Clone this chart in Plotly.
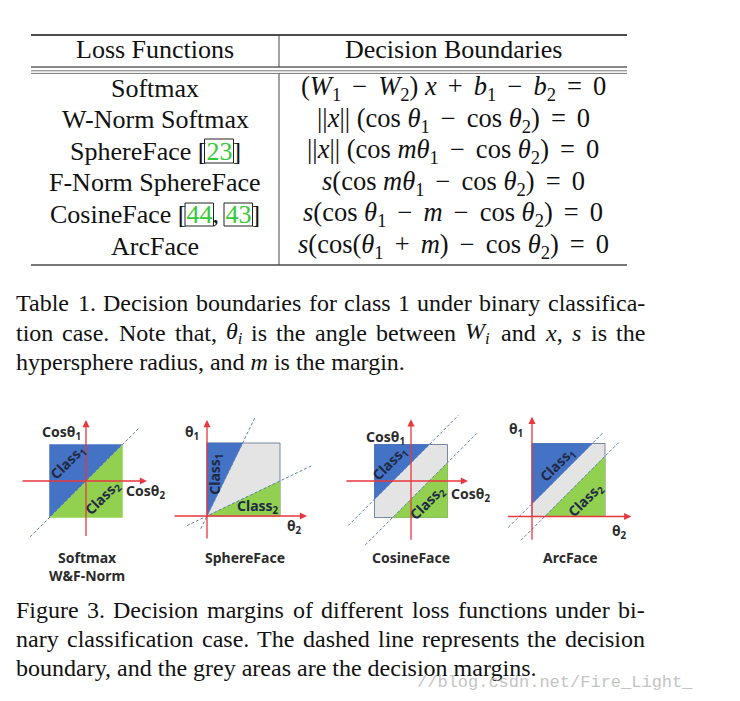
import re
import plotly.graph_objects as go

W, H = 740, 701
S = 36.5  # pixels per unit in the small diagrams

SERIF = "Liberation Serif"
SANS = "Noto Sans"
GREEN_REF = "#35c935"

# ---- table data ----
table_header = ["Loss Functions", "Decision Boundaries"]
loss_names = [
    "Softmax",
    "W-Norm Softmax",
    f"SphereFace [<span style='color:{GREEN_REF}'>23</span>]",
    "F-Norm SphereFace",
    f"CosineFace [<span style='color:{GREEN_REF}'>44</span>, <span style='color:{GREEN_REF}'>43</span>]",
    "ArcFace",
]
sp = "\u2004\u200a"
nrm = "||<i>x</i>||"
boundaries = [
    f"(<i>W</i><sub>1</sub>{sp}−{sp}<i>W</i><sub>2</sub>) <i>x</i>{sp}+{sp}<i>b</i><sub>1</sub>{sp}−{sp}<i>b</i><sub>2</sub>{sp}={sp}0",
    f"{nrm} (cos <i>θ</i><sub>1</sub>{sp}−{sp}cos <i>θ</i><sub>2</sub>){sp}={sp}0",
    f"{nrm} (cos <i>mθ</i><sub>1</sub>{sp}−{sp}cos <i>θ</i><sub>2</sub>){sp}={sp}0",
    f"<i>s</i>(cos <i>mθ</i><sub>1</sub>{sp}−{sp}cos <i>θ</i><sub>2</sub>){sp}={sp}0",
    f"<i>s</i>(cos <i>θ</i><sub>1</sub>{sp}−{sp}<i>m</i>{sp}−{sp}cos <i>θ</i><sub>2</sub>){sp}={sp}0",
    f"<i>s</i>(cos(<i>θ</i><sub>1</sub>{sp}+{sp}<i>m</i>){sp}−{sp}cos <i>θ</i><sub>2</sub>){sp}={sp}0",
]

# ---- caption text (last line of each paragraph is not justified) ----
table_caption = [
    "Table 1. Decision boundaries for class 1 under binary classifica-",
    "tion case.  Note that, <i>θ<sub>i</sub></i> is the angle between <i>W<sub>i</sub></i> and <i>x</i>, <i>s</i> is the",
    "hypersphere radius, and <i>m</i> is the margin.",
]
figure_caption = [
    "Figure 3. Decision margins of different loss functions under bi-",
    "nary classification case.  The dashed line represents the decision",
    "boundary, and the grey areas are the decision margins.",
]
watermark = "//blog.csdn.net/Fire_Light_"

# ---- diagram data ----
diagram_titles = ["Softmax<br>W&F-Norm", "SphereFace", "CosineFace", "ArcFace"]
axis_labels = [("Cosθ<sub>1</sub>", "Cosθ<sub>2</sub>"), ("θ<sub>1</sub>", "θ<sub>2</sub>"),
               ("Cosθ<sub>1</sub>", "Cosθ<sub>2</sub>"), ("θ<sub>1</sub>", "θ<sub>2</sub>")]
class_labels = ["Class<sub>1</sub>", "Class<sub>2</sub>"]
# cosine-space diagrams: square [-1, 1], boundary y = x +/- margin
softmax_margin = 0.0
cosface_margin = 0.5
# angle-space diagrams: square [0, 2]
sphere_slopes = [2.05, 0.48]      # class1 boundary, class2 boundary
arcface_margin = 0.35
# dashed line extents (x start, x end) per boundary
softmax_dash = [(-1.53, 1.48)]
sphere_dash = [(-0.17, 1.33), (-0.55, 2.9)]
cosface_dash = [(-1.72, 1.3), (-1.25, 1.8)]
arcface_dash = [(-0.65, 1.95), (-0.3, 2.4)]

BLUE = "#4472c4"
LGREEN = "#92d050"
GREY = "#e4e4e4"
RED = "#e8373f"
DASH = "#5b80b8"
EDGE = "#7a869c"
INK = "#1f2a44"

# Times-compatible advance widths (per 1000 em), used to justify caption lines
_w = {" ": 250, ".": 250, ",": 250, "-": 333, "θ": 500}
_w.update({c: 500 for c in "0123456789bdghknopquvxy"})
_w.update({c: 444 for c in "acez"})
_w.update({c: 278 for c in "ijlt"})
_w.update({"f": 333, "r": 333, "s": 389, "m": 778, "w": 722})
_w.update(dict(zip("ABCDEFGHIJKLMNOPQRSTUVWXYZ",
                   [722, 667, 667, 722, 611, 556, 722, 722, 333, 389, 722, 611, 889,
                    722, 722, 556, 722, 667, 556, 611, 722, 722, 944, 722, 722, 611])))


def est_width(html, size):
    total = 0.0
    for piece in re.split(r"(<sub>.*?</sub>)", html):
        scale = 0.7 if piece.startswith("<sub>") else 1.0
        plain = re.sub(r"<[^>]+>", "", piece)
        total += scale * sum(_w.get(c, 500) for c in plain)
    return total * size / 1000


fig = go.Figure()

# main pixel axis
fig.update_layout(
    xaxis=dict(range=[0, W], domain=[0, 1], visible=False, fixedrange=True),
    yaxis=dict(range=[H, 0], domain=[0, 1], visible=False, fixedrange=True),
)
annotations = []
shapes = []


def txt(x, y, text, size=26, family=SERIF, xanchor="center", color="#111", weight="normal"):
    annotations.append(dict(x=x, y=y, xref="x", yref="y", text=text, showarrow=False,
                            xanchor=xanchor, yanchor="middle",
                            font=dict(family=family, size=size, color=color, weight=weight)))


def hline(x0, x1, y, color="#111", width=1.0):
    shapes.append(dict(type="line", xref="x", yref="y", x0=x0, x1=x1, y0=y, y1=y,
                       line=dict(color=color, width=width)))


# ---- table ----
hline(31, 627, 35, "#111", 1.3)
hline(31, 627, 67, "#111", 1.0)
hline(31, 627, 70.8, "#777", 1.0)
hline(31, 627, 73.4, "#777", 1.0)
hline(31, 627, 265, "#777", 1.8)
for y0, y1 in [(35, 67), (73.4, 265)]:
    shapes.append(dict(type="line", xref="x", yref="y", x0=279, x1=279, y0=y0, y1=y1,
                       line=dict(color="#444", width=1)))

txt(155, 49, table_header[0])
txt(453, 49, table_header[1])
for i, (name, formula) in enumerate(zip(loss_names, boundaries)):
    y = 88 + i * 31.6
    txt(155, y, name)
    txt(453, y, formula, size=26.5)

# citation link boxes (around the rendered reference numbers)
for x0, x1, y0, y1 in [(204.5, 233.5, 139, 163), (185, 213.5, 203, 226), (224, 252.5, 203, 226)]:
    shapes.append(dict(type="rect", xref="x", yref="y", x0=x0, x1=x1, y0=y0, y1=y1,
                       line=dict(color="#222", width=1)))


# ---- captions ----
def caption(lines, y_top, step, left=14, right=643, size=24):
    for i, line in enumerate(lines):
        y = y_top + i * step
        if i == len(lines) - 1:
            txt(left, y, line, size=size, xanchor="left")
            continue
        words = [w for w in line.split(" ") if w]
        widths = [est_width(w, size) for w in words]
        gap = (right - left - sum(widths)) / (len(words) - 1)
        x = left
        for w, wd in zip(words, widths):
            txt(x, y, w, size=size, xanchor="left")
            x += wd + gap


caption(table_caption, 303, 29.5)
caption(figure_caption, 610, 29)
txt(415, 682, watermark, size=17, family="Liberation Mono", xanchor="left", color="#c4c4c4")


# ---- diagrams ----
def diagram_axes(k, ox, oy, xr, yr):
    xa, ya = f"xaxis{k}", f"yaxis{k}"
    fig.update_layout({
        xa: dict(range=xr, domain=[(ox + xr[0] * S) / W, (ox + xr[1] * S) / W],
                 visible=False, fixedrange=True, anchor=f"y{k}"),
        ya: dict(range=yr, domain=[(H - oy + yr[0] * S) / H, (H - oy + yr[1] * S) / H],
                 visible=False, fixedrange=True, anchor=f"x{k}"),
    })
    return f"x{k}", f"y{k}"


def poly(xs, ys, color, xr, yr, edge=None):
    fig.add_trace(go.Scatter(x=xs + xs[:1], y=ys + ys[:1], xaxis=xr, yaxis=yr, mode="lines",
                             fill="toself", fillcolor=color,
                             line=dict(color=edge or color, width=1 if edge else 0.5),
                             hoverinfo="skip", showlegend=False))


def dashed(fn, x0, x1, xr, yr):
    fig.add_trace(go.Scatter(x=[x0, x1], y=[fn(x0), fn(x1)], xaxis=xr, yaxis=yr, mode="lines",
                             line=dict(color=DASH, width=1, dash="3px,2px"),
                             hoverinfo="skip", showlegend=False))


def arrow(xr, yr, x0, y0, x1, y1):
    annotations.append(dict(x=x1, y=y1, ax=x0, ay=y0, xref=xr, yref=yr, axref=xr, ayref=yr,
                            text="", showarrow=True, arrowhead=2, arrowsize=1.1,
                            arrowwidth=1.3, arrowcolor=RED, standoff=0))


def label(xr, yr, x, y, text, size=14, angle=0, color="#2b2b2b"):
    annotations.append(dict(x=x, y=y, xref=xr, yref=yr, text=text, showarrow=False,
                            textangle=angle, xanchor="center", yanchor="middle",
                            font=dict(family=SANS, size=size, color=color, weight="bold")))


# 1. Softmax (cosine space, centred square)
xr, yr = diagram_axes(2, 86, 481, [-2.3, 2.3], [-2.3, 2.3])
m = softmax_margin
poly([-1, -1, 1], [-1, 1, 1], BLUE, xr, yr)
poly([-1, 1, 1], [-1, -1, 1], LGREEN, xr, yr)
for x0, x1 in softmax_dash:
    dashed(lambda x: x + m, x0, x1, xr, yr)
arrow(xr, yr, 0, -1.55, 0, 1.67)
arrow(xr, yr, -1.78, 0, 1.67, 0)
label(xr, yr, -0.66, 1.32, axis_labels[0][0])
label(xr, yr, 1.64, -0.3, axis_labels[0][1])
label(xr, yr, -0.5, 0.52, class_labels[0], 14, -45, INK)
label(xr, yr, 0.47, -0.46, class_labels[1], 14, -45, INK)

# 2. SphereFace (angle space, square from origin)
xr, yr = diagram_axes(3, 207, 516, [-1.2, 3.0], [-1.2, 3.0])
k1, k2 = sphere_slopes
poly([0, 2, 2, 0], [0, 0, 2, 2], GREY, xr, yr, EDGE)
poly([0, 0, 2 / k1], [0, 2, 2], BLUE, xr, yr)
poly([0, 2, 2], [0, 0, 2 * k2], LGREEN, xr, yr)
for (x0, x1), k in zip(sphere_dash, sphere_slopes):
    dashed(lambda x, k=k: k * x, x0, x1, xr, yr)
arrow(xr, yr, 0, -0.66, 0, 2.63)
arrow(xr, yr, -0.93, 0, 2.74, 0)
label(xr, yr, -0.41, 2.3, axis_labels[1][0])
label(xr, yr, 2.41, -0.3, axis_labels[1][1])
label(xr, yr, 0.23, 1.14, class_labels[0], 14, -90, INK)
label(xr, yr, 1.4, 0.25, class_labels[1], 14, 0, INK)

# 3. CosineFace (cosine space, additive cosine margin)
xr, yr = diagram_axes(4, 411, 481, [-2.3, 2.3], [-2.3, 2.3])
m = cosface_margin
poly([-1, 1, 1, -1], [-1, -1, 1, 1], GREY, xr, yr, EDGE)
poly([-1, -1, 1 - m], [1, -1 + m, 1], BLUE, xr, yr)
poly([1, -1 + m, 1], [-1, -1, 1 - m], LGREEN, xr, yr)
for (x0, x1), off in zip(cosface_dash, [m, -m]):
    dashed(lambda x, off=off: x + off, x0, x1, xr, yr)
arrow(xr, yr, 0, -1.65, 0, 1.69)
arrow(xr, yr, -1.81, 0, 1.56, 0)
label(xr, yr, -0.71, 1.18, axis_labels[2][0])
label(xr, yr, 1.62, -0.38, axis_labels[2][1])
label(xr, yr, -0.58, 0.49, class_labels[0], 14, -45, INK)
label(xr, yr, 0.47, -0.6, class_labels[1], 14, -45, INK)

# 4. ArcFace (angle space, additive angular margin)
xr, yr = diagram_axes(5, 532, 516.5, [-1.2, 3.0], [-1.2, 3.0])
m = arcface_margin
poly([0, 2, 2, 0], [0, 0, 2, 2], GREY, xr, yr, EDGE)
poly([0, 0, 2 - m], [2, m, 2], BLUE, xr, yr)
poly([2, m, 2], [0, 0, 2 - m], LGREEN, xr, yr)
for (x0, x1), off in zip(arcface_dash, [m, -m]):
    dashed(lambda x, off=off: x + off, x0, x1, xr, yr)
arrow(xr, yr, 0, -0.68, 0, 2.73)
arrow(xr, yr, -0.7, 0, 2.72, 0)
label(xr, yr, -0.45, 2.38, axis_labels[3][0])
label(xr, yr, 2.4, -0.42, axis_labels[3][1])
label(xr, yr, 0.71, 1.42, class_labels[0], 14, -45, INK)
label(xr, yr, 1.49, 0.46, class_labels[1], 14, -45, INK)

# diagram titles
for x, t in zip([87, 245, 411, 570], diagram_titles):
    txt(x, 566 if "<br>" in t else 557, t, size=14, family=SANS, color="#2b2b2b", weight="bold")

fig.update_layout(
    width=W, height=H,
    margin=dict(l=0, r=0, t=0, b=0),
    paper_bgcolor="white", plot_bgcolor="white",
    annotations=annotations, shapes=shapes,
    showlegend=False,
)

fig.write_html("out.html", config={"displayModeBar": False},
               post_script="document.body.style.margin='0';")
